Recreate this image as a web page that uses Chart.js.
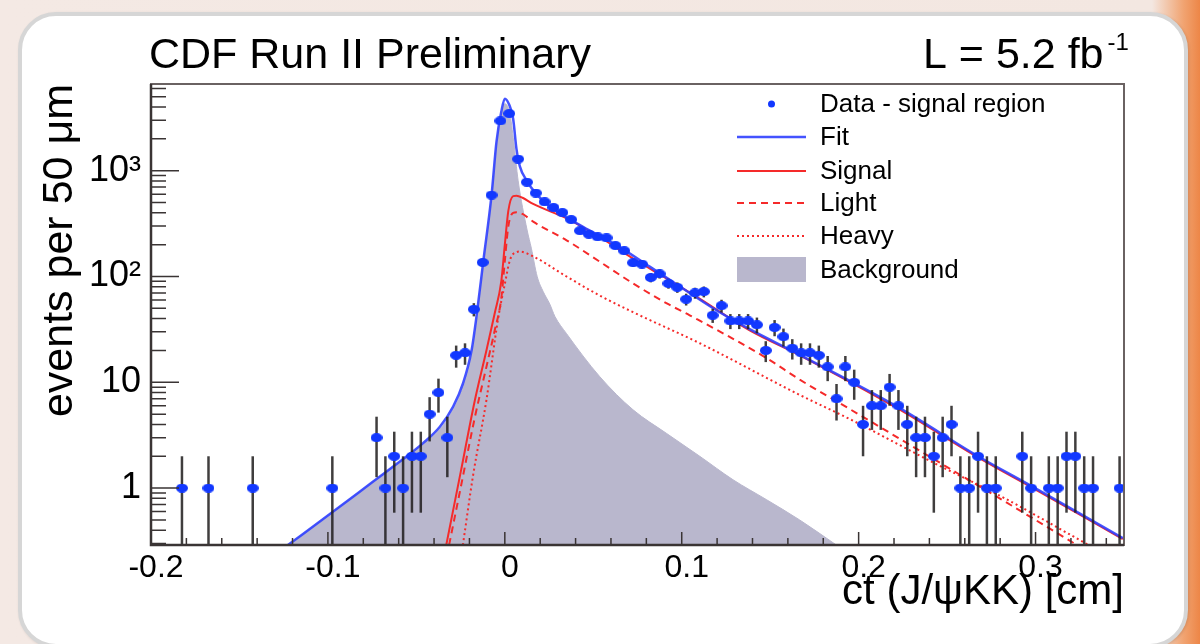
<!DOCTYPE html>
<html>
<head>
<meta charset="utf-8">
<title>ct (J/psi KK) lifetime fit</title>
<script src="https://cdn.jsdelivr.net/npm/chart.js@4.4.1/dist/chart.umd.min.js"></script>
<style>
    html, body { margin: 0; padding: 0; }
    body {
        width: 1200px; height: 644px; overflow: hidden; position: relative;
        background: linear-gradient(90deg, #f4e9e4 0%, #f3e7e1 96%, #f1a472 98.6%, #ed8647 100%);
    }
    .panel {
        position: absolute; left: 18px; top: 12px; width: 1170px; height: 636px;
        box-sizing: border-box; background: #fff;
        border: 4px solid #d6d6d6; border-radius: 38px;
        box-shadow: 1px 1px 3px rgba(0, 0, 0, 0.12);
    }
    .chart-box { position: absolute; left: 0; top: 0; width: 1200px; height: 644px; }
</style>
</head>
<body>
<div class="panel"></div>
<div class="chart-box"><canvas id="ctChart"></canvas></div>
<script>
// Binned data: bin centres in cm (50 um bins) and events per bin
const binCenters = [-0.1825, -0.1675, -0.1425, -0.0975, -0.0725, -0.0675, -0.0625, -0.0575, -0.0525, -0.0475,
    -0.0425, -0.0375, -0.0325, -0.0275, -0.0225, -0.0175, -0.0125, -0.0075, -0.0025, 0.0025,
    0.0075, 0.0125, 0.0175, 0.0225, 0.0275, 0.0325, 0.0375, 0.0425, 0.0475, 0.0525,
    0.0575, 0.0625, 0.0675, 0.0725, 0.0775, 0.0825, 0.0875, 0.0925, 0.0975, 0.1025,
    0.1075, 0.1125, 0.1175, 0.1225, 0.1275, 0.1325, 0.1375, 0.1425, 0.1475, 0.1525,
    0.1575, 0.1625, 0.1675, 0.1725, 0.1775, 0.1825, 0.1875, 0.1925, 0.1975, 0.2025,
    0.2075, 0.2125, 0.2175, 0.2225, 0.2275, 0.2325, 0.2375, 0.2425, 0.2475, 0.2525,
    0.2575, 0.2625, 0.2675, 0.2725, 0.2775, 0.2925, 0.2975, 0.3075, 0.3125, 0.3175,
    0.3225, 0.3275, 0.3325, 0.3475];
const counts = [1, 1, 1, 1, 3, 1, 2, 1, 2, 2,
    5, 8, 3, 18, 19, 49, 136, 588, 2960, 3470,
    1290, 780, 615, 508, 449, 402, 345, 271, 251, 237,
    232, 196, 175, 135, 131, 98, 106, 86, 79, 61,
    70, 72, 43, 53, 38, 38, 38, 35, 20, 33,
    27, 21, 19, 19, 18, 14, 7, 14, 10, 4,
    6, 6, 9, 6, 4, 3, 3, 2, 3, 4,
    1, 1, 2, 1, 1, 2, 1, 1, 1, 2,
    2, 1, 1, 1];

// Fit curves, sampled along ct
const fitX = [-0.1226, -0.097, -0.0746, -0.0556, -0.0462, -0.0367, -0.0292, -0.0236, -0.0188, -0.016,
    -0.0122, -0.0075, -0.0047, -0.002, 0, 0.0025, 0.0047, 0.0066, 0.0085, 0.0123,
    0.0175, 0.0254, 0.0442, 0.0631, 0.0819, 0.1007, 0.1196, 0.1384, 0.1667, 0.2225,
    0.2675, 0.2975, 0.3493];
const fitY = [0.29, 0.6, 1.15, 1.99, 2.66, 3.8, 5.9, 9.8, 20, 42,
    138, 588, 1880, 3600, 4800, 4200, 3100, 1600, 1100, 812,
    610, 459, 295, 198, 124, 77, 48, 31.8, 18.2, 5.8,
    2.0, 1.05, 0.337];

const signalX = [-0.0331, -0.025, -0.0169, -0.0104, -0.0057, -0.002, 0, 0.002, 0.0047, 0.0066,
    0.01, 0.016, 0.0349, 0.0537, 0.0725, 0.0913, 0.1083, 0.1384, 0.1667, 0.2225,
    0.2675, 0.2975, 0.3493];
const signalY = [0.29, 1.4, 6.8, 20, 45, 90, 200, 420, 575, 580,
    555, 485, 354, 235, 148, 96, 64.5, 31, 18, 5.6,
    1.95, 1.02, 0.33];

const lightX = [-0.0315, -0.025, -0.0169, -0.0104, -0.0057, -0.002, 0, 0.002, 0.0047, 0.0066,
    0.01, 0.016, 0.0349, 0.0537, 0.0725, 0.0913, 0.1045, 0.1478, 0.1667, 0.1949,
    0.242, 0.2797, 0.3234];
const lightY = [0.29, 1.0, 4.7, 14, 31, 62, 140, 300, 400, 405,
    390, 330, 220, 138, 86, 56, 43, 17, 10.6, 5.6,
    1.9, 0.8, 0.29];

const heavyX = [-0.0237, -0.018, -0.0104, -0.0038, 0, 0.003, 0.0066, 0.0085, 0.016, 0.0349,
    0.0537, 0.0725, 0.1102, 0.1667, 0.1949, 0.242, 0.2797, 0.33];
const heavyY = [0.29, 1.3, 6.8, 40, 85, 145, 170, 172, 155, 100,
    66, 46, 23.4, 7.6, 4.5, 1.75, 0.85, 0.29];

const bkgX = [-0.1226, -0.097, -0.0746, -0.0556, -0.0462, -0.0367, -0.0292, -0.0236, -0.0188, -0.016,
    -0.0122, -0.0075, -0.0047, -0.002, 0, 0.0028, 0.005, 0.0075, 0.0126, 0.015,
    0.0183, 0.0217, 0.0254, 0.0283, 0.0348, 0.0537, 0.0725, 0.0913, 0.1102, 0.129,
    0.1478, 0.1667, 0.1874];
const bkgY = [0.29, 0.6, 1.15, 1.98, 2.6, 3.6, 5.5, 9, 18, 37,
    125, 540, 1750, 3300, 4300, 3500, 1900, 812, 275, 185,
    100, 72, 55, 42, 29, 11.3, 5.5, 3.3, 2.0, 1.2,
    0.78, 0.5, 0.29];

// Axis ticks and labels
const xTickValues = [-0.2, -0.1, 0, 0.1, 0.2, 0.3];
const xTickLabels = ['-0.2', '-0.1', '0', '0.1', '0.2', '0.3'];
const yTickValues = [1, 10, 100, 1000];
const yTickLabels = ['1', '10', '10²', '10³'];

const legendLabels = ['Data - signal region', 'Fit', 'Signal', 'Light', 'Heavy', 'Background'];

const DATA_BLUE = '#1238ff';
const FIT_BLUE = 'rgba(48, 64, 255, 0.9)';
const RED = '#f52a2a';
const BKG_FILL = '#b9b7cd';
const FONT = "'Liberation Sans', Arial, Helvetica, sans-serif";

const X_MIN = -0.2, X_MAX = 0.35;
const Y_MIN = 0.29, Y_MAX = 6600;

function toPoints(xs, ys) {
    return xs.map((x, i) => ({ x: x, y: ys[i] }));
}

// Markers come out slightly wider than tall in the original plot
function ellipseMarker(w, h, color) {
    const c = document.createElement('canvas');
    c.width = w;
    c.height = h;
    const g = c.getContext('2d');
    g.fillStyle = color;
    g.beginPath();
    g.ellipse(w / 2, h / 2, w / 2, h / 2, 0, 0, Math.PI * 2);
    g.fill();
    return c;
}

// Poisson error bars, drawn just under the data markers
const errorBars = {
    id: 'errorBars',
    beforeDatasetDraw(chart, args) {
        if (args.index !== 0) return;
        const { ctx, chartArea: a, scales: { x, y } } = chart;
        ctx.save();
        ctx.beginPath();
        ctx.rect(a.left, a.top, a.width, a.height);
        ctx.clip();
        ctx.strokeStyle = 'rgba(30, 28, 28, 0.85)';
        ctx.lineWidth = 2.5;
        binCenters.forEach((c, i) => {
            const n = counts[i];
            const err = Math.sqrt(n);
            const px = x.getPixelForValue(c);
            ctx.beginPath();
            ctx.moveTo(px, y.getPixelForValue(Math.max(n - err, 0.01)));
            ctx.lineTo(px, y.getPixelForValue(n + err));
            ctx.stroke();
        });
        ctx.restore();
    }
};

// ROOT style frame with tick marks pointing into the pad
const rootFrame = {
    id: 'rootFrame',
    afterDatasetsDraw(chart) {
        const { ctx, chartArea: a, scales: { x, y } } = chart;
        ctx.save();
        ctx.strokeStyle = '#6a6262';
        ctx.lineWidth = 2;
        ctx.strokeRect(a.left, a.top, a.width, a.height);

        ctx.strokeStyle = '#3a3434';
        ctx.lineWidth = 2.5;
        ctx.beginPath();
        ctx.moveTo(a.left, a.top);
        ctx.lineTo(a.left, a.bottom);
        ctx.lineTo(a.right, a.bottom);
        ctx.stroke();

        ctx.lineWidth = 1.5;
        ctx.beginPath();
        for (let k = -10; k <= 17; k++) {
            const px = x.getPixelForValue(k * 0.02);
            const len = k % 5 === 0 ? 13 : 7;
            ctx.moveTo(px, a.bottom);
            ctx.lineTo(px, a.bottom - len);
        }
        for (let d = -1; d <= 3; d++) {
            for (let m = 1; m <= 9; m++) {
                const v = m * Math.pow(10, d);
                if (v < Y_MIN || v > Y_MAX) continue;
                const py = y.getPixelForValue(v);
                ctx.moveTo(a.left, py);
                ctx.lineTo(a.left + (m === 1 ? 28 : 15), py);
            }
        }
        ctx.stroke();
        ctx.restore();
    }
};

// Titles, luminosity and the legend box
const annotations = {
    id: 'annotations',
    afterDraw(chart) {
        const { ctx, chartArea: a } = chart;
        const sets = chart.data.datasets;
        ctx.save();
        ctx.fillStyle = '#000';
        ctx.textBaseline = 'alphabetic';

        ctx.font = '43px ' + FONT;
        ctx.textAlign = 'left';
        ctx.fillText('CDF Run II Preliminary', 149, 68);

        const lumi = 'L = 5.2 fb';
        ctx.fillText(lumi, 923, 68);
        const lw = ctx.measureText(lumi).width;
        ctx.font = '24px ' + FONT;
        ctx.fillText('-1', 923 + lw + 4, 50);

        ctx.font = '42px ' + FONT;
        ctx.textAlign = 'right';
        ctx.fillText('ct (J/ψKK) [cm]', a.right, 604);

        ctx.save();
        ctx.translate(72, a.top);
        ctx.rotate(-Math.PI / 2);
        ctx.font = '43px ' + FONT;
        ctx.fillText('events per 50 μm', 0, 0);
        ctx.restore();

        // legend
        const rows = [104, 137, 171, 203, 236, 270];
        const x0 = 737, x1 = 806, tx = 820;
        ctx.font = '26px ' + FONT;
        ctx.textAlign = 'left';
        ctx.textBaseline = 'middle';
        legendLabels.forEach((label, i) => {
            const yy = rows[i];
            const ds = sets[i];
            if (i === 0) {
                ctx.fillStyle = DATA_BLUE;
                ctx.beginPath();
                ctx.arc((x0 + x1) / 2, yy, 3.5, 0, Math.PI * 2);
                ctx.fill();
            } else if (i === 5) {
                ctx.fillStyle = BKG_FILL;
                ctx.fillRect(x0, yy - 13, x1 - x0, 25);
            } else {
                ctx.strokeStyle = ds.borderColor;
                ctx.lineWidth = ds.borderWidth;
                ctx.setLineDash(ds.borderDash || []);
                ctx.beginPath();
                ctx.moveTo(x0, yy);
                ctx.lineTo(x1, yy);
                ctx.stroke();
                ctx.setLineDash([]);
            }
            ctx.fillStyle = '#000';
            ctx.fillText(label, tx, yy + 1);
        });
        ctx.restore();
    }
};

const curveDefaults = {
    showLine: true,
    pointRadius: 0,
    cubicInterpolationMode: 'monotone',
    fill: false
};

new Chart(document.getElementById('ctChart'), {
    type: 'scatter',
    data: {
        datasets: [{
            label: legendLabels[0],
            data: toPoints(binCenters, counts),
            pointStyle: ellipseMarker(12, 9, DATA_BLUE),
            pointRadius: 5,
            showLine: false
        }, {
            ...curveDefaults,
            label: legendLabels[1],
            data: toPoints(fitX, fitY),
            borderColor: FIT_BLUE,
            borderWidth: 2.5
        }, {
            ...curveDefaults,
            label: legendLabels[2],
            data: toPoints(signalX, signalY),
            borderColor: RED,
            borderWidth: 2
        }, {
            ...curveDefaults,
            label: legendLabels[3],
            data: toPoints(lightX, lightY),
            borderColor: RED,
            borderWidth: 2,
            borderDash: [7, 5]
        }, {
            ...curveDefaults,
            label: legendLabels[4],
            data: toPoints(heavyX, heavyY),
            borderColor: RED,
            borderWidth: 2,
            borderDash: [2, 3]
        }, {
            ...curveDefaults,
            label: legendLabels[5],
            data: toPoints(bkgX, bkgY),
            borderColor: BKG_FILL,
            borderWidth: 1,
            backgroundColor: BKG_FILL,
            fill: 'start'
        }]
    },
    options: {
        responsive: true,
        maintainAspectRatio: false,
        animation: false,
        events: [],
        layout: { padding: { top: 84, right: 76, bottom: 0, left: 0 } },
        plugins: {
            legend: { display: false },
            tooltip: { enabled: false }
        },
        scales: {
            x: {
                type: 'linear',
                min: X_MIN,
                max: X_MAX,
                afterFit: (scale) => { scale.height = 99; },
                afterBuildTicks: (scale) => { scale.ticks = xTickValues.map(v => ({ value: v })); },
                grid: { display: false, drawTicks: false },
                border: { display: false },
                ticks: {
                    autoSkip: false,
                    maxRotation: 0,
                    padding: 4,
                    labelOffset: 5,
                    color: '#000',
                    font: { family: FONT, size: 32 },
                    callback: (value, index) => xTickLabels[index]
                }
            },
            y: {
                type: 'logarithmic',
                min: Y_MIN,
                max: Y_MAX,
                afterFit: (scale) => { scale.width = 151; },
                afterBuildTicks: (scale) => { scale.ticks = yTickValues.map(v => ({ value: v })); },
                grid: { display: false, drawTicks: false },
                border: { display: false },
                ticks: {
                    autoSkip: false,
                    padding: 10,
                    color: '#000',
                    font: { family: FONT, size: 36 },
                    callback: (value, index) => yTickLabels[index]
                }
            }
        }
    },
    plugins: [errorBars, rootFrame, annotations]
});
</script>
</body>
</html>
